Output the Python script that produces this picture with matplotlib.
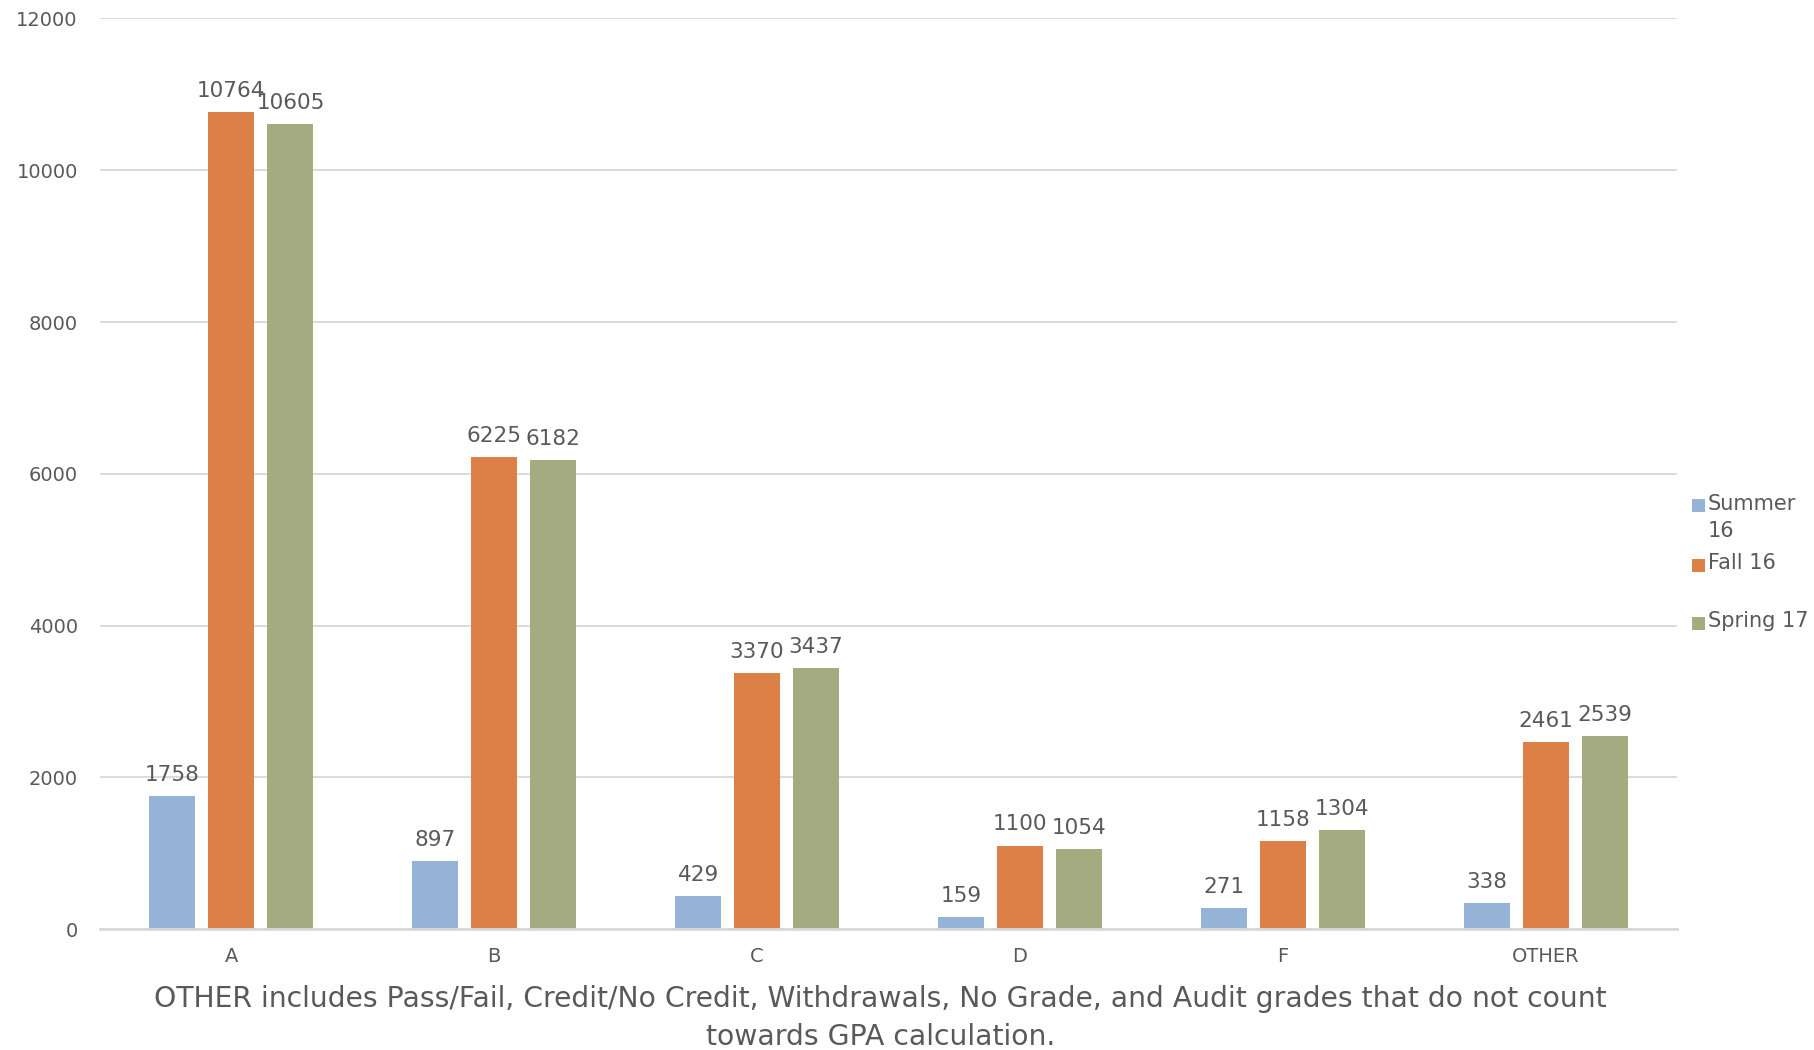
import numpy as np
import matplotlib.pyplot as plt
from matplotlib.patches import Rectangle

# grade distribution per term
grades = ['A', 'B', 'C', 'D', 'F', 'OTHER']
summer_16 = [1758, 897, 429, 159, 271, 338]
fall_16 = [10764, 6225, 3370, 1100, 1158, 2461]
spring_17 = [10605, 6182, 3437, 1054, 1304, 2539]
series_names = ['Summer\n16', 'Fall 16', 'Spring 17']
series_colors = ['#95b3d7', '#dd8047', '#a5ab81']

caption = ('OTHER includes Pass/Fail, Credit/No Credit, Withdrawals, No Grade, and Audit grades that do not count\n'
           'towards GPA calculation.')

text_color = '#595959'
plt.rcParams['font.family'] = ['DejaVu Sans']


def draw_chart():
    fig = plt.figure(figsize=(18.15, 10.5), dpi=100)
    ax = fig.add_axes([0.0551, 0.1152, 0.8689, 0.8672])

    x = np.arange(len(grades))
    step = 0.2245
    width = 0.175
    all_series = [summer_16, fall_16, spring_17]

    for i, values in enumerate(all_series):
        bars = ax.bar(x + (i - 1) * step, values, width, color=series_colors[i], zorder=2)
        for b, v in zip(bars, values):
            ax.annotate(str(v), (b.get_x() + b.get_width() / 2, v),
                        xytext=(0, 8), textcoords='offset points',
                        ha='center', va='bottom', fontsize=15.5, color=text_color)

    ax.set_xlim(-0.5, len(grades) - 0.5)
    ax.set_ylim(0, 12000)
    ax.set_yticks(np.arange(0, 12001, 2000))
    ax.set_xticks(x)
    ax.set_xticklabels(grades)
    ax.tick_params(axis='y', length=0, pad=16, labelsize=14, labelcolor=text_color)
    ax.tick_params(axis='x', length=0, pad=13, labelsize=14, labelcolor=text_color)

    ax.yaxis.grid(True, color='#d9d9d9', linewidth=1.3, zorder=0)
    ax.set_axisbelow(True)
    for side in ['top', 'right', 'left']:
        ax.spines[side].set_visible(False)
    ax.spines['bottom'].set_color('#d9d9d9')
    ax.spines['bottom'].set_linewidth(2)
    ax.spines['bottom'].set_zorder(3)

    # legend, drawn by hand so the wrapped label sits like the original
    legend_y = [506, 565, 623]
    for name, color, y in zip(series_names, series_colors, legend_y):
        yf = 1 - y / 1050
        fig.patches.append(Rectangle((1692 / 1815, yf - 6.5 / 1050), 13 / 1815, 13 / 1050,
                                     transform=fig.transFigure, facecolor=color, edgecolor='none'))
        fig.text(1708 / 1815, yf + 12 / 1050, name, ha='left', va='top', fontsize=15,
                 color=text_color, linespacing=1.45)

    fig.text(0.485, 1 - 985 / 1050, caption, ha='center', va='top', fontsize=20.3,
             color=text_color, linespacing=1.44)

    fig.savefig('out.png', dpi=100)


if __name__ == '__main__':
    draw_chart()
